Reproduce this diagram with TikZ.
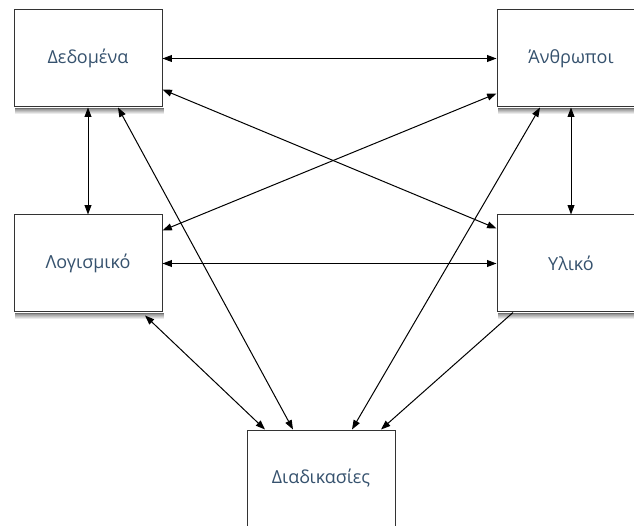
\documentclass[tikz,border=0pt]{standalone}
\usepackage{fontspec}
\setmainfont{Open Sans}
\usepackage{tikz}
\usetikzlibrary{arrows.meta}
\definecolor{labelblue}{HTML}{36526E}
\tikzset{
	block/.style    = {draw=black!80, line width=1pt, rectangle, fill=white,
		minimum height = 97pt,
		minimum width = 148pt,
		text=labelblue, font=\fontsize{18}{22}\selectfont},
	shadestrip/.style = {fill=black!#1, draw=none},
}
\begin{document}
\begin{tikzpicture}[ x=1pt, y=-1pt,
                       line width=1pt,                %<--setting line style
                       >/.tip={Triangle[angle=40:10pt]}
                       ]
    \useasboundingbox (0,0) rectangle (634,526);

    %-- Blocks creation --%
    \draw
      % TOP ROW %
      node(data) at (88,58.5) [block] {Δεδομένα}
      node(people) at (571,58.5) [block] {Άνθρωποι}
    ;
    \draw
      % MIDDLE ROW %
      node(software) at (88,263.5) [block] {Λογισμικό}
      node(hardware) at (571,263.5) [block] {Υλικό}
    ;
    \draw
      % BOTTOM %
      node(procedures) at (321,478.5) [block] {Διαδικασίες}
    ;

    %-- Shadows under the blocks (light to dark) --%
    \foreach \blk in {data,people,software,hardware,procedures}{
      \foreach \d [evaluate=\d as \tone using int(8*(8-\d))] in {7,6,...,1}{
        \path[shadestrip=\tone] ([shift={(1.5pt,-0.5pt)}]\blk.south west) rectangle ([shift={(1.5pt,-\d*1pt)}]\blk.south east);
      }
    }

    %-- Block linking --%
    % HORIZONTAL %
    \draw[<->] (data.east)      -- (people.west);
    \draw[<->] (software.east)  -- (hardware.west);

    % VERTICAL %
    \draw[<->] (data.south)     -- (software.north);
    \draw[<->] (people.south)   -- (hardware.north);

    % CROSSING %
    \draw[<->] ([yshift=-31pt]data.east)    -- ([yshift=35pt]hardware.west);
    \draw[<->] ([yshift=-35pt]people.west)  -- ([yshift=33pt]software.east);

    % TO PROCEDURES %
    \draw[<->] ([xshift=30pt]data.south)      -- ([xshift=-28pt]procedures.north);
    \draw[<->] ([xshift=-31pt]people.south)   -- ([xshift=31pt]procedures.north);
    \draw[<->] ([xshift=57pt,yshift=-3pt]software.south) -- ([xshift=-56pt]procedures.north);
    \draw[->]  ([xshift=-58pt]hardware.south) -- ([xshift=60pt]procedures.north);

  \end{tikzpicture}
\end{document}
